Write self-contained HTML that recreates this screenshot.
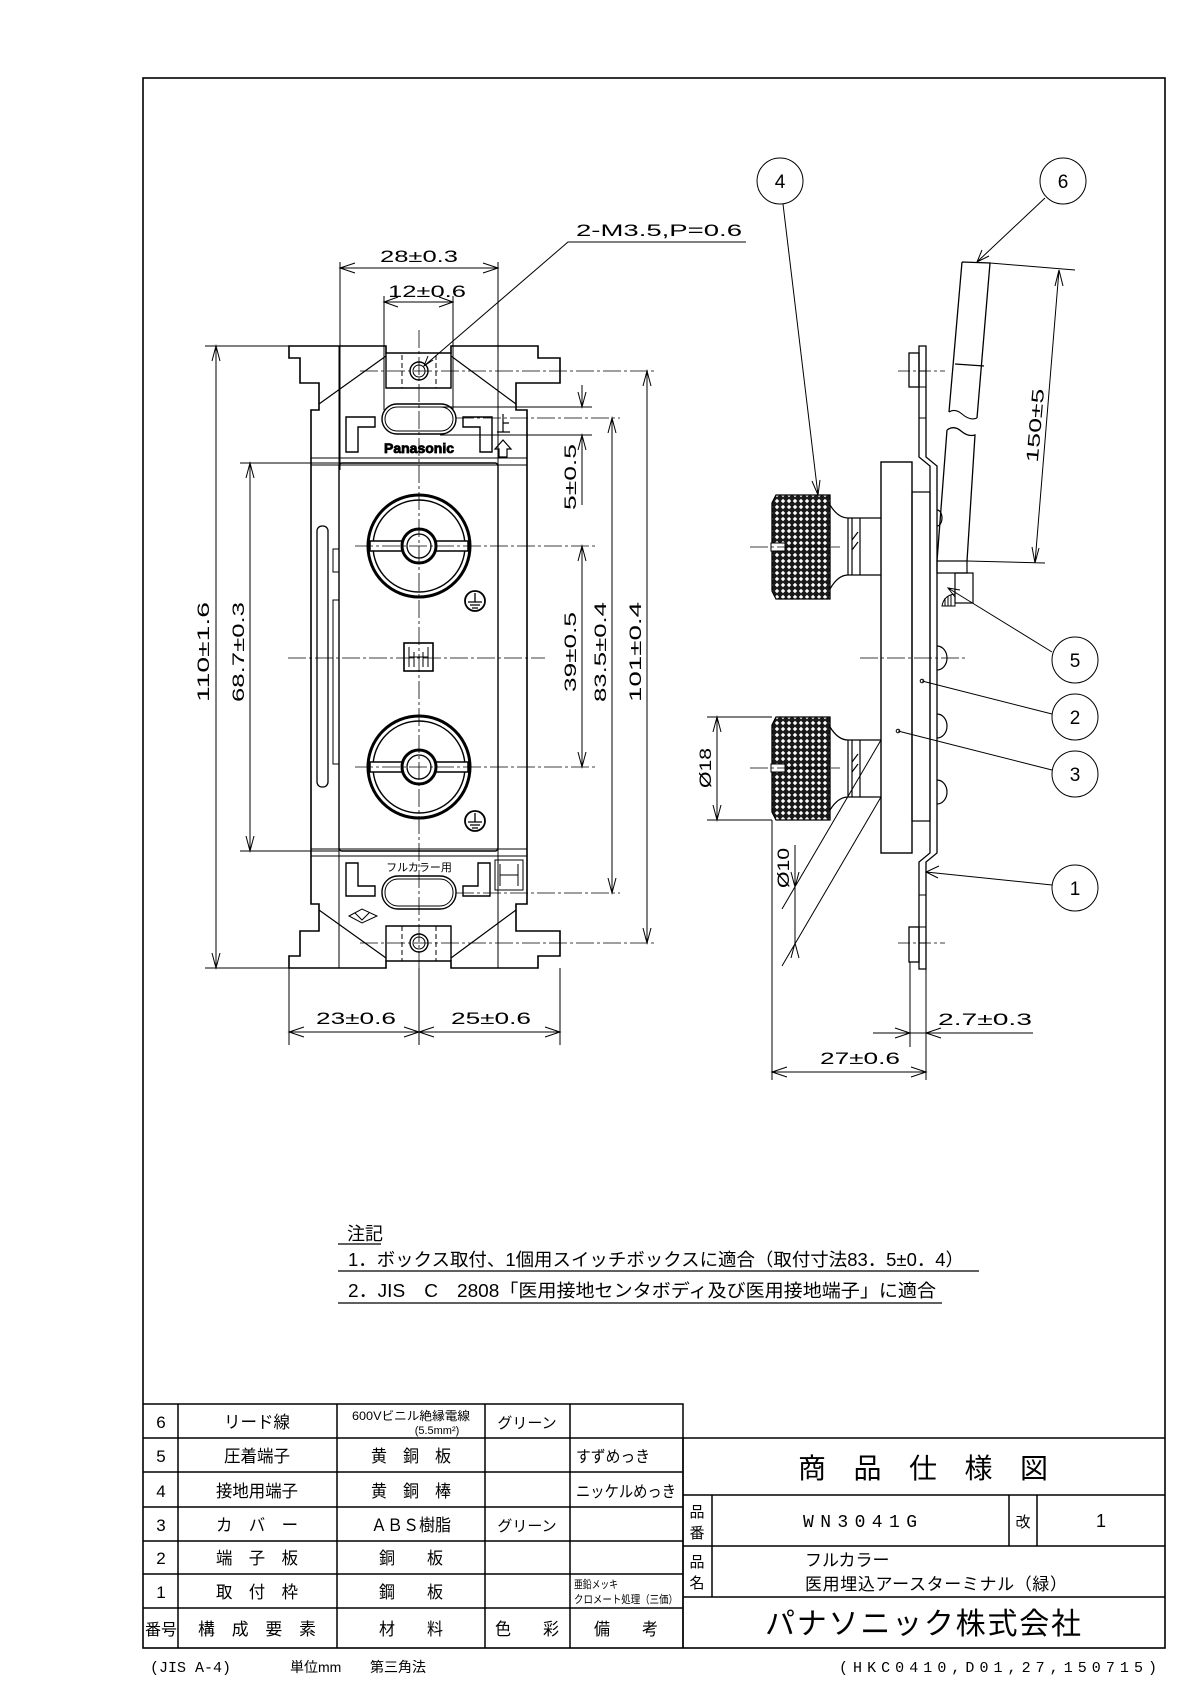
<!DOCTYPE html>
<html><head><meta charset="utf-8"><style>
html,body{margin:0;padding:0;background:#fff;}
svg{display:block;}
text{font-family:"Liberation Sans","Noto Sans CJK JP",sans-serif;fill:#000;}
.m{font-family:"Liberation Mono","Noto Sans CJK JP",monospace;}
</style></head><body>
<svg width="1196" height="1690" viewBox="0 0 1196 1690" xmlns="http://www.w3.org/2000/svg">
<defs>
<pattern id="knurl" width="6" height="6" patternUnits="userSpaceOnUse">
<rect width="6" height="6" fill="#1a1a1a"/>
<path d="M3,0.8 L5.2,3 L3,5.2 L0.8,3 Z" fill="#fff"/>
</pattern>
</defs>
<g fill="none" stroke="#000" stroke-width="1">
<rect x="143" y="78" width="1022" height="1570" stroke-width="1.6"/>

<path d="M289,346 H386 V353 H451 V346 H538 V358 H560 V383 H516 V410 H527 V904 H516 V931 H560 V956 H538 V968 H451 V961 H386 V968 H289 V956 H300 V931 H319 V904 H311 V410 H319 V383 H300 V358 H289 Z" stroke-width="1.6"/>
<path d="M386,353 V388 H451 V353 M386,961 V926 H451 V961" stroke-width="1.4"/>
<path d="M386,356 L319,404 M451,356 L516,404 M386,958 L319,910 M451,958 L516,910" stroke-width="1.2"/>
<path d="M402,355 V388 M436,355 V388 M402,926 V961 M436,926 V961" stroke-dasharray="5,3"/>
<circle cx="419" cy="371" r="9" stroke-width="1.4"/><circle cx="419" cy="371" r="6"/>
<circle cx="419" cy="943" r="9" stroke-width="1.4"/><circle cx="419" cy="943" r="6"/>
<path d="M339,346 V968 M498,346 V968"/>
<path d="M311,458 H527 M311,465 H527 M311,849 H527 M311,856 H527"/>
<rect x="339" y="463" width="159" height="388" rx="3" stroke-width="1.4"/>
<rect x="382" y="404" width="74" height="30" rx="15" stroke-width="1.4"/>
<rect x="385" y="407" width="68" height="24" rx="12"/>
<rect x="382" y="876" width="74" height="33" rx="16" stroke-width="1.4"/>
<rect x="385" y="879" width="68" height="27" rx="13"/>
<path d="M346,417 H375 V427 H358 V452 H346 Z M492,417 H463 V427 H480 V452 H492 Z" stroke-width="1.4"/>
<path d="M346,863 H358 V886 H375 V896 H346 Z M490,863 H478 V886 H463 V896 H490 Z" stroke-width="1.4"/>
<path d="M503,414 V432 M497,432 H510 M503,423 H509" stroke-width="1.2"/>
<path d="M503,440 L495,449 H499 V457 H507 V449 H511 Z" stroke-width="1.2"/>
<rect x="495" y="860" width="28" height="30"/>
<path d="M500,864 V886 M518,864 V886 M500,875 H518"/>
<path d="M349,916 L362,909 L377,916 L362,923 Z M355,913 L362,920 L369,913"/>
<rect x="317" y="526" width="11" height="261" rx="5" stroke-width="1.3"/>
<rect x="333" y="549" width="6" height="23"/>
<rect x="333" y="600" width="6" height="164"/>
<g>
<circle cx="419" cy="546" r="51" stroke-width="3"/>
<circle cx="419" cy="546" r="46" stroke-width="1.4"/>
<rect x="370" y="541" width="98" height="10" fill="#fff" stroke-width="1.5"/>
<circle cx="419" cy="546" r="17" fill="#fff" stroke-width="3"/>
<circle cx="419" cy="546" r="12" stroke-width="1.3"/>
</g>
<g>
<circle cx="419" cy="767" r="51" stroke-width="3"/>
<circle cx="419" cy="767" r="46" stroke-width="1.4"/>
<rect x="370" y="762" width="98" height="10" fill="#fff" stroke-width="1.5"/>
<circle cx="419" cy="767" r="17" fill="#fff" stroke-width="3"/>
<circle cx="419" cy="767" r="12" stroke-width="1.3"/>
</g>
<circle cx="475" cy="601" r="10" stroke-width="1.8"/><path d="M475,593 V602 M468,602 H482 M470,605 H480 M472,608 H478" stroke-width="1.3"/>
<circle cx="475" cy="821" r="10" stroke-width="1.8"/><path d="M475,813 V822 M468,822 H482 M470,825 H480 M472,828 H478" stroke-width="1.3"/>
<rect x="404" y="643" width="29" height="28" stroke-width="1.6"/>
<path d="M409,647 V667 M428,647 V667 M409,657 H428 M414,652 V667 M423,652 V667"/>
<path d="M419,330 V985 M288,658 H545 M355,546 H595 M355,767 H595 M360,371 H655 M360,943 H655" stroke-width="0.8" stroke-dasharray="18,3,3,3"/>
<path d="M456,418 H620 M456,893 H620" stroke-width="0.8" stroke-dasharray="18,3,3,3"/>
<path d="M440,407 H592 M440,435 H592"/>
<path d="M340,262 V470 M498,262 V470 M384,296 V410 M453,296 V410"/>
<path d="M340,268 H498 M384,302 H453"/>
<path d="M355,263 L340,268 L355,273 M483,263 L498,268 L483,273 M398,297 L384,302 L398,307 M439,297 L453,302 L439,307"/>
<path d="M205,346 H289 M205,968 H289 M240,463 H339 M240,851 H339 M289,968 V1045 M419,968 V1045 M560,968 V1045"/>
<path d="M216,346 V968 M250,463 V851 M647,371 V943 M612,418 V893 M582,546 V767 M582,385 V407 M582,435 V505"/>
<path d="M212,361 L216,346 L220,361 M212,953 L216,968 L220,953 M246,478 L250,463 L254,478 M246,836 L250,851 L254,836 M643,386 L647,371 L651,386 M643,928 L647,943 L651,928 M608,433 L612,418 L616,433 M608,878 L612,893 L616,878 M578,561 L582,546 L586,561 M578,752 L582,767 L586,752 M578,392 L582,407 L586,392 M578,450 L582,435 L586,450"/>
<path d="M289,1032 H560 M304,1027 L289,1032 L304,1037 M404,1027 L419,1032 L404,1037 M434,1027 L419,1032 L434,1037 M545,1027 L560,1032 L545,1037"/>
<path d="M746,242 H568 L424,366 M428,356 L424,366 L433,360"/>

<path d="M776,495 H830 V599 H776 L772,591 V503 Z" fill="url(#knurl)" stroke-width="1.3"/>
<path d="M776,717 H830 V820 H776 L772,812 V725 Z" fill="url(#knurl)" stroke-width="1.3"/>
<rect x="771" y="543" width="14" height="8" fill="#fff" stroke="#000"/>
<rect x="771" y="764" width="14" height="8" fill="#fff" stroke="#000"/>
<path d="M830,505 Q838,518 848,518 M830,589 Q838,575 848,575 M848,518 V575 M852,518 V575 M848,518 H881 M848,575 H881 M860,518 V575 M852,540 L858,532 M852,550 L858,542" stroke-width="1.2"/>
<path d="M830,727 Q838,740 848,740 M830,810 Q838,797 848,797 M848,740 V797 M852,740 V797 M848,740 H881 M848,797 H881 M860,740 V797 M852,762 L858,754 M852,772 L858,764" stroke-width="1.2"/>
<path d="M750,547 H840 M750,768 H840" stroke-width="0.8" stroke-dasharray="18,3,3,3"/>
<rect x="881" y="462" width="31" height="391" stroke-width="1.4"/>
<rect x="912" y="492" width="18" height="329" stroke-width="1.2"/>
<path d="M919,346 V457 L930,466 V853 L919,862 V969 H926 V862 L937,853 V466 L926,457 V346 Z" stroke-width="1.3"/>
<path d="M919,371 H926 M919,387 H926 M919,418 H926 M919,927 H926 M919,943 H926 M919,895 H926"/>
<rect x="909" y="353" width="10" height="34" stroke-width="1.3"/>
<rect x="909" y="927" width="10" height="35" stroke-width="1.3"/>
<path d="M898,371 H945 M898,943 H945" stroke-width="0.8" stroke-dasharray="12,3,3,3"/>
<path d="M937,646 A10,12 0 0 1 937,670 M937,714 A10,12 0 0 1 937,738 M937,780 A10,12 0 0 1 937,804 M937,510 A5,8 0 0 1 937,526" stroke-width="1.2"/>
<path d="M860,658 H968" stroke-width="0.8" stroke-dasharray="18,3,3,3"/>
<circle cx="922" cy="681" r="1.8"/><circle cx="898" cy="731" r="1.8"/>
<rect x="937" y="561" width="30" height="12" stroke-width="1.2"/>
<rect x="955" y="573" width="18" height="30" stroke-width="1.2"/>
<path d="M942,606 Q944,595 955,594 V606 Z" stroke-width="1"/>
<path d="M945,598 V606 M948,596 V606 M951,595 V606"/>
<path d="M962,262 L990,263 L977,418 M962,262 L949,412 M955,364 L984,366" stroke-width="1.3"/>
<path d="M949,412 Q955,408 962,414 Q970,421 977,418" stroke-width="1.1"/>
<path d="M947,430 Q954,425 961,431 Q968,437 975,435 L967,561 M947,430 L937,561" stroke-width="1.3"/>
<path d="M990,263 L1075,270 M967,561 L1045,563 M1059,270 L1035,563 M1055,286 L1059,270 L1063,286 M1032,547 L1035,563 L1039,548"/>
<path d="M707,717 H772 M707,820 H772 M717,717 V820 M713,732 L717,717 L721,732 M713,805 L717,820 L721,805"/>
<path d="M881,740 L782,909 M881,797 L782,966 M795,845 V945 M791,872 L795,887 L799,872 M791,958 L795,943 L799,958" stroke-width="1"/>
<path d="M772,820 V1080 M926,969 V1080 M910,962 V1047"/>
<path d="M772,1072 H926 M787,1067 L772,1072 L787,1077 M911,1067 L926,1072 L911,1077"/>
<path d="M873,1033 H1033 M895,1028 L910,1033 L895,1038 M941,1028 L926,1033 L941,1038"/>
<circle cx="780" cy="181" r="23"/><circle cx="1063" cy="181" r="23"/>
<circle cx="1075" cy="660" r="23"/><circle cx="1075" cy="717" r="23"/>
<circle cx="1075" cy="774" r="23"/><circle cx="1075" cy="888" r="23"/>
<path d="M783,204 L818,495 M812,481 L818,495 L820,480"/>
<path d="M1045,198 L977,262 M982,250 L977,262 L989,256"/>
<path d="M1052,652 L948,588 M955,597 L948,588 L960,590"/>
<path d="M1052,714 L922,681 M1052,770 L898,731"/>
<path d="M1052,885 L926,872 M939,866 L926,872 L938,878"/>

<path d="M338,1244 H381 M338,1271 H979 M338,1303 H942" stroke-width="1.3"/>

<g stroke-width="1.5">
<path d="M143,1404 H683 V1648 M143,1438 H683 M143,1472 H683 M143,1507 H683 M143,1541 H683 M143,1574 H683 M143,1608 H683"/>
<path d="M178,1404 V1648 M337,1404 V1648 M485,1404 V1648 M570,1404 V1648"/>
<path d="M683,1438 H1165 M683,1495 H1165 M683,1546 H1165 M683,1597 H1165 M683,1438 V1648 M712,1495 V1597 M1009,1495 V1546 M1037,1495 V1546"/>
</g>
</g>

<g font-size="17" class="m">
<text x="380" y="262" textLength="78" lengthAdjust="spacingAndGlyphs">28±0.3</text>
<text x="388" y="297" textLength="78" lengthAdjust="spacingAndGlyphs">12±0.6</text>
<text x="576" y="236" textLength="166" lengthAdjust="spacingAndGlyphs">2-M3.5,P=0.6</text>
<text x="316" y="1024" textLength="80" lengthAdjust="spacingAndGlyphs">23±0.6</text>
<text x="451" y="1024" textLength="80" lengthAdjust="spacingAndGlyphs">25±0.6</text>
<text x="820" y="1064" textLength="80" lengthAdjust="spacingAndGlyphs">27±0.6</text>
<text x="938" y="1025" textLength="94" lengthAdjust="spacingAndGlyphs">2.7±0.3</text>
<text transform="translate(209,652) rotate(-90)" text-anchor="middle" textLength="100" lengthAdjust="spacingAndGlyphs" x="0" y="0">110±1.6</text>
<text transform="translate(244,652) rotate(-90)" text-anchor="middle" x="0" y="0" textLength="100" lengthAdjust="spacingAndGlyphs">68.7±0.3</text>
<text transform="translate(641,652) rotate(-90)" text-anchor="middle" x="0" y="0" textLength="100" lengthAdjust="spacingAndGlyphs">101±0.4</text>
<text transform="translate(606,652) rotate(-90)" text-anchor="middle" x="0" y="0" textLength="100" lengthAdjust="spacingAndGlyphs">83.5±0.4</text>
<text transform="translate(576,652) rotate(-90)" text-anchor="middle" x="0" y="0" textLength="80" lengthAdjust="spacingAndGlyphs">39±0.5</text>
<text transform="translate(576,477) rotate(-90)" text-anchor="middle" x="0" y="0" textLength="66" lengthAdjust="spacingAndGlyphs">5±0.5</text>
<text transform="translate(1041,426) rotate(-85)" text-anchor="middle" x="0" y="0" textLength="74" lengthAdjust="spacingAndGlyphs">150±5</text>
<text transform="translate(711,768) rotate(-90)" text-anchor="middle" x="0" y="0" textLength="40" lengthAdjust="spacingAndGlyphs">Ø18</text>
<text transform="translate(789,868) rotate(-90)" text-anchor="middle" x="0" y="0" textLength="40" lengthAdjust="spacingAndGlyphs">Ø10</text>
</g>
<g font-size="19" text-anchor="middle">
<text x="780" y="188">4</text><text x="1063" y="188">6</text>
<text x="1075" y="667">5</text><text x="1075" y="724">2</text>
<text x="1075" y="781">3</text><text x="1075" y="895">1</text>
</g>
<text x="419" y="453" font-size="14" font-weight="bold" text-anchor="middle" fill="#fff" stroke="#000" stroke-width="0.8">Panasonic</text>
<text x="419" y="871" font-size="11" text-anchor="middle">フルカラー用</text>

<g font-size="18">
<text x="347" y="1240">注記</text>
<text x="348" y="1266" textLength="616" lengthAdjust="spacingAndGlyphs">1．ボックス取付、1個用スイッチボックスに適合（取付寸法83．5±0．4）</text>
<text x="348" y="1297" textLength="588" lengthAdjust="spacingAndGlyphs">2．JIS　C　2808「医用接地センタボディ及び医用接地端子」に適合</text>
</g>

<g font-size="17" text-anchor="middle">
<text x="161" y="1428">6</text><text x="161" y="1462">5</text><text x="161" y="1497">4</text>
<text x="161" y="1531">3</text><text x="161" y="1564">2</text><text x="161" y="1598">1</text>
<text x="161" y="1635" font-size="16">番号</text>
<text x="257" y="1428" textLength="66" lengthAdjust="spacingAndGlyphs">リード線</text>
<text x="257" y="1462" textLength="66" lengthAdjust="spacingAndGlyphs">圧着端子</text>
<text x="257" y="1497" textLength="82" lengthAdjust="spacingAndGlyphs">接地用端子</text>
<text x="257" y="1531" textLength="82" lengthAdjust="spacingAndGlyphs">カ　バ　ー</text>
<text x="257" y="1564" textLength="82" lengthAdjust="spacingAndGlyphs">端　子　板</text>
<text x="257" y="1598" textLength="82" lengthAdjust="spacingAndGlyphs">取　付　枠</text>
<text x="257" y="1635" textLength="118" lengthAdjust="spacingAndGlyphs">構　成　要　素</text>
<text x="411" y="1420" font-size="12" textLength="118" lengthAdjust="spacingAndGlyphs">600Vビニル絶縁電線</text>
<text x="437" y="1434" font-size="11">(5.5mm²)</text>
<text x="411" y="1462" textLength="80" lengthAdjust="spacingAndGlyphs">黄　銅　板</text>
<text x="411" y="1497" textLength="80" lengthAdjust="spacingAndGlyphs">黄　銅　棒</text>
<text x="411" y="1531" textLength="80" lengthAdjust="spacingAndGlyphs">ＡＢＳ樹脂</text>
<text x="411" y="1564" textLength="64" lengthAdjust="spacingAndGlyphs">銅　　板</text>
<text x="411" y="1598" textLength="64" lengthAdjust="spacingAndGlyphs">鋼　　板</text>
<text x="411" y="1635" textLength="64" lengthAdjust="spacingAndGlyphs">材　　料</text>
<text x="527" y="1428" font-size="15">グリーン</text>
<text x="527" y="1531" font-size="15">グリーン</text>
<text x="527" y="1635" textLength="64" lengthAdjust="spacingAndGlyphs">色　　彩</text>
<text x="626" y="1635" textLength="64" lengthAdjust="spacingAndGlyphs">備　　考</text>
</g>
<g font-size="16">
<text x="576" y="1462" textLength="74" lengthAdjust="spacingAndGlyphs">すずめっき</text>
<text x="576" y="1497" textLength="100" lengthAdjust="spacingAndGlyphs">ニッケルめっき</text>
<text x="574" y="1588" font-size="11" textLength="44" lengthAdjust="spacingAndGlyphs">亜鉛メッキ</text>
<text x="574" y="1603" font-size="11" textLength="104" lengthAdjust="spacingAndGlyphs">クロメート処理（三価）</text>
</g>
<text x="923" y="1478" font-size="28" text-anchor="middle" textLength="250" lengthAdjust="spacing">商　品　仕　様　図</text>
<g font-size="15" text-anchor="middle">
<text x="697" y="1517">品</text><text x="697" y="1538">番</text>
<text x="697" y="1567">品</text><text x="697" y="1588">名</text>
<text x="1023" y="1527">改</text>
</g>
<text x="860" y="1527" font-size="18" text-anchor="middle" textLength="114" lengthAdjust="spacing" class="m">WN3041G</text>
<text x="1101" y="1527" font-size="18" text-anchor="middle">1</text>
<text x="805" y="1566" font-size="17">フルカラー</text>
<text x="805" y="1590" font-size="17" textLength="262" lengthAdjust="spacing">医用埋込アースターミナル（緑）</text>
<text x="923" y="1634" font-size="30" text-anchor="middle" textLength="316" lengthAdjust="spacing">パナソニック株式会社</text>
<text x="150" y="1672" font-size="15" class="m">(JIS A-4)</text>
<text x="290" y="1672" font-size="14">単位mm</text>
<text x="370" y="1672" font-size="14">第三角法</text>
<text x="1157" y="1672" font-size="15" text-anchor="end" class="m" textLength="318" lengthAdjust="spacing">(HKC0410,D01,27,150715)</text>
</svg>
</body></html>
